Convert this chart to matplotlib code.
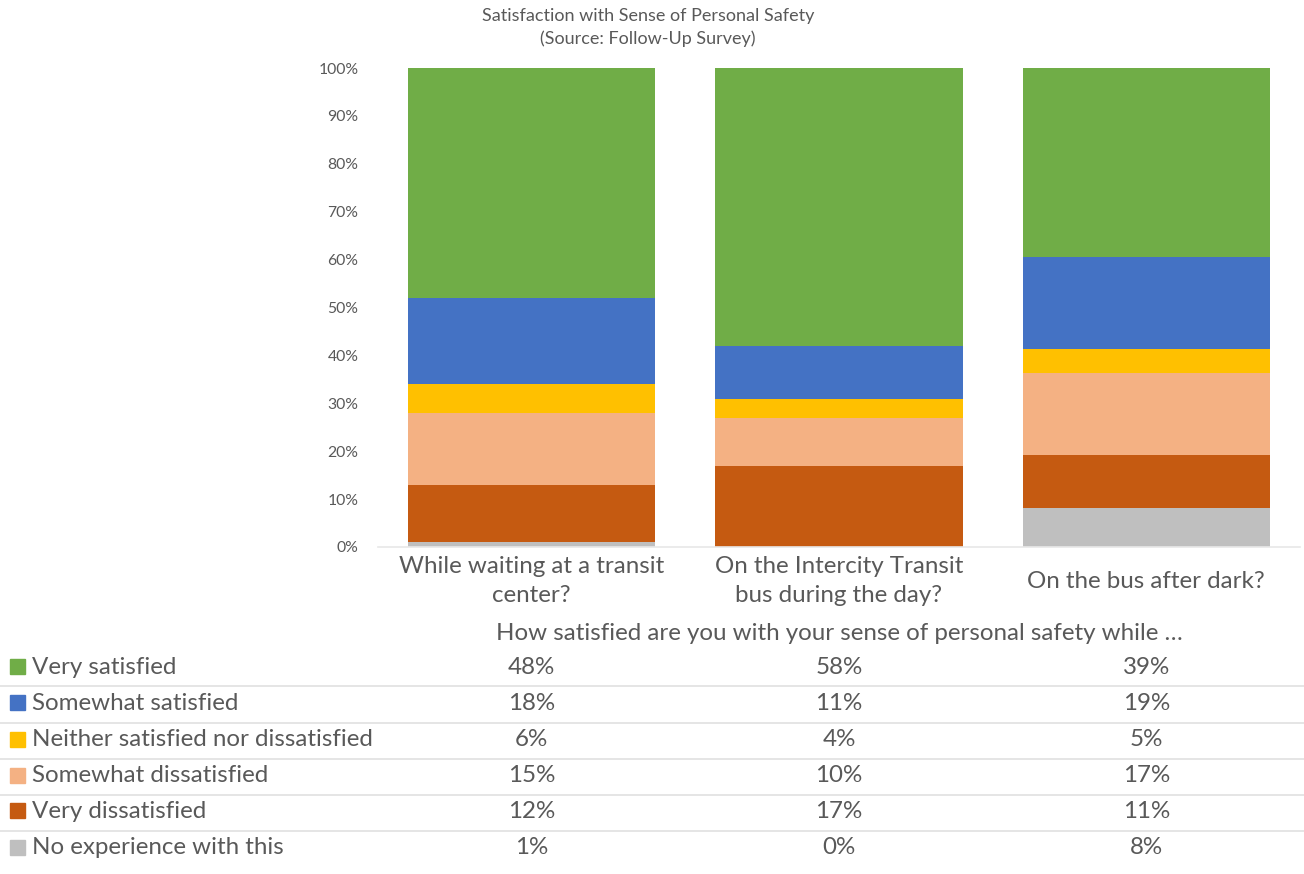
import numpy as np
import matplotlib
matplotlib.use("Agg")
import matplotlib.pyplot as plt
from matplotlib.patches import Rectangle
from matplotlib.lines import Line2D
from matplotlib.transforms import blended_transform_factory

plt.rcParams['font.family'] = ['Lato', 'DejaVu Sans']

# data
categories = ["While waiting at a transit\ncenter?",
              "On the Intercity Transit\nbus during the day?",
              "On the bus after dark?"]
series = ["Very satisfied", "Somewhat satisfied", "Neither satisfied nor dissatisfied",
          "Somewhat dissatisfied", "Very dissatisfied", "No experience with this"]
very_sat = [48, 58, 39]
some_sat = [18, 11, 19]
neither = [6, 4, 5]
some_dis = [15, 10, 17]
very_dis = [12, 17, 11]
no_exp = [1, 0, 8]
colors = ["#70AD47", "#4472C4", "#FFC000", "#F4B183", "#C55A11", "#BFBFBF"]

values = [very_sat, some_sat, neither, some_dis, very_dis, no_exp]
txt = "#595959"
fs = 17.4

W, H = 1304, 874
fig = plt.figure(figsize=(W / 100, H / 100), dpi=100)

def fx(px):
    return px / W

def fy(py):
    return 1 - py / H

ax = fig.add_axes([fx(378), fy(547), fx(1300) - fx(378), fy(68) - fy(547)])

# 100% stacked: normalise each column
arr = np.array(values, dtype=float)
pct = arr / arr.sum(axis=0) * 100
x = np.arange(len(categories))

# stack from bottom: no experience first
bottom = np.zeros(len(categories))
for i in range(len(series) - 1, -1, -1):
    ax.bar(x, pct[i], 0.805, bottom=bottom, color=colors[i], linewidth=0)
    bottom += pct[i]

ax.set_xlim(-0.5, len(categories) - 0.5)
ax.set_ylim(0, 100)
ax.set_yticks(np.arange(0, 101, 10))
ax.set_yticklabels([f"{v}%" for v in range(0, 101, 10)], color=txt, fontsize=11.3)
ax.set_xticks([])
ax.tick_params(axis='both', length=0)
ax.tick_params(axis='y', pad=14)
for s in ["top", "right", "left"]:
    ax.spines[s].set_visible(False)
ax.spines["bottom"].set_color("#e8e8e8")
ax.spines["bottom"].set_linewidth(1.2)

tr = blended_transform_factory(ax.transData, fig.transFigure)
for c, lab in enumerate(categories):
    fig.text(x[c], fy(581), lab, transform=tr, ha="center", va="center", color=txt,
             fontsize=fs, linespacing=1.45, multialignment="center")

fig.text(fx(648), fy(16), "Satisfaction with Sense of Personal Safety", ha="center", va="center",
         color=txt, fontsize=13)
fig.text(fx(648), fy(39), "(Source: Follow-Up Survey)", ha="center", va="center",
         color=txt, fontsize=13)

# data table below
fig.text(fx(839), fy(634), "How satisfied are you with your sense of personal safety while \u2026",
         ha="center", va="center", color=txt, fontsize=fs)

row_y = [667, 703, 740, 776, 811, 848]
for r, name in enumerate(series):
    yy = row_y[r]
    fig.patches.append(Rectangle((fx(10), fy(yy + 7)), fx(15), fy(yy - 8) - fy(yy + 7),
                                 transform=fig.transFigure, color=colors[r], figure=fig))
    fig.text(fx(32), fy(yy), name, ha="left", va="center", color=txt, fontsize=fs)
    for c in range(len(categories)):
        fig.text(x[c], fy(yy), f"{values[r][c]}%", transform=tr, ha="center", va="center",
                 color=txt, fontsize=fs)
    if r < len(series) - 1:
        ly = fy((row_y[r] + row_y[r + 1]) / 2 + 1)
        fig.lines.append(Line2D([0, 1], [ly, ly], transform=fig.transFigure,
                                color="#e0e0e0", linewidth=1.2))

fig.savefig("out.png", dpi=100, facecolor="white")
